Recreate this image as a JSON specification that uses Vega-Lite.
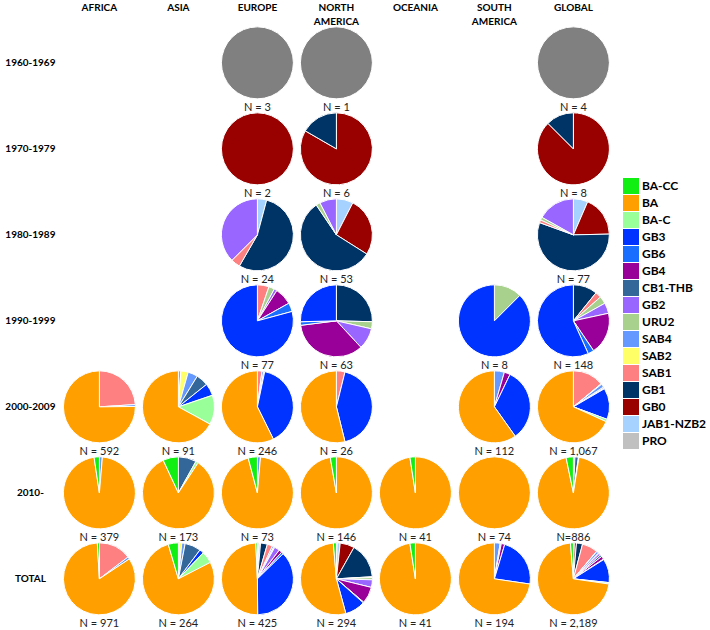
{
  "$schema": "https://vega.github.io/schema/vega-lite/v6.json",
  "padding": {"left": 5, "top": 2, "right": 5, "bottom": 5},
  "bounds": "flush",
  "datasets": {
    "ranks": [
      {"g": "NA", "k": 0}, {"g": "PRO", "k": 1}, {"g": "JAB1-NZB2", "k": 2}, {"g": "GB0", "k": 3},
      {"g": "GB1", "k": 4}, {"g": "SAB1", "k": 5}, {"g": "SAB2", "k": 6}, {"g": "SAB4", "k": 7},
      {"g": "URU2", "k": 8}, {"g": "GB2", "k": 9}, {"g": "CB1-THB", "k": 10}, {"g": "GB4", "k": 11},
      {"g": "GB6", "k": 12}, {"g": "GB3", "k": 13}, {"g": "BA-C", "k": 14}, {"g": "BA", "k": 15}, {"g": "BA-CC", "k": 16}
    ],
    "pies": [
      {"r": "AFRICA", "d": "1960-1969", "g": "NA", "v": null, "n": null},
      {"r": "ASIA", "d": "1960-1969", "g": "NA", "v": null, "n": null},
      {"r": "OCEANIA", "d": "1960-1969", "g": "NA", "v": null, "n": null},
      {"r": "SOUTH AMERICA", "d": "1960-1969", "g": "NA", "v": null, "n": null},
      {"r": "AFRICA", "d": "1970-1979", "g": "NA", "v": null, "n": null},
      {"r": "ASIA", "d": "1970-1979", "g": "NA", "v": null, "n": null},
      {"r": "OCEANIA", "d": "1970-1979", "g": "NA", "v": null, "n": null},
      {"r": "SOUTH AMERICA", "d": "1970-1979", "g": "NA", "v": null, "n": null},
      {"r": "AFRICA", "d": "1980-1989", "g": "NA", "v": null, "n": null},
      {"r": "ASIA", "d": "1980-1989", "g": "NA", "v": null, "n": null},
      {"r": "OCEANIA", "d": "1980-1989", "g": "NA", "v": null, "n": null},
      {"r": "SOUTH AMERICA", "d": "1980-1989", "g": "NA", "v": null, "n": null},
      {"r": "AFRICA", "d": "1990-1999", "g": "NA", "v": null, "n": null},
      {"r": "ASIA", "d": "1990-1999", "g": "NA", "v": null, "n": null},
      {"r": "OCEANIA", "d": "1990-1999", "g": "NA", "v": null, "n": null},
      {"r": "OCEANIA", "d": "2000-2009", "g": "NA", "v": null, "n": null},

      {"r": "EUROPE", "d": "1960-1969", "g": "NA", "v": 3, "n": "N = 3"},
      {"r": "NORTH AMERICA", "d": "1960-1969", "g": "NA", "v": 1, "n": "N = 1"},
      {"r": "GLOBAL", "d": "1960-1969", "g": "NA", "v": 4, "n": "N = 4"},

      {"r": "EUROPE", "d": "1970-1979", "g": "GB0", "v": 2, "n": "N = 2"},
      {"r": "NORTH AMERICA", "d": "1970-1979", "g": "GB0", "v": 5, "n": "N = 6"},
      {"r": "NORTH AMERICA", "d": "1970-1979", "g": "GB1", "v": 1, "n": "N = 6"},
      {"r": "GLOBAL", "d": "1970-1979", "g": "GB0", "v": 7, "n": "N = 8"},
      {"r": "GLOBAL", "d": "1970-1979", "g": "GB1", "v": 1, "n": "N = 8"},

      {"r": "EUROPE", "d": "1980-1989", "g": "JAB1-NZB2", "v": 1, "n": "N = 24"},
      {"r": "EUROPE", "d": "1980-1989", "g": "GB1", "v": 13, "n": "N = 24"},
      {"r": "EUROPE", "d": "1980-1989", "g": "SAB1", "v": 1, "n": "N = 24"},
      {"r": "EUROPE", "d": "1980-1989", "g": "GB2", "v": 9, "n": "N = 24"},
      {"r": "NORTH AMERICA", "d": "1980-1989", "g": "JAB1-NZB2", "v": 4, "n": "N = 53"},
      {"r": "NORTH AMERICA", "d": "1980-1989", "g": "GB0", "v": 14, "n": "N = 53"},
      {"r": "NORTH AMERICA", "d": "1980-1989", "g": "GB1", "v": 30, "n": "N = 53"},
      {"r": "NORTH AMERICA", "d": "1980-1989", "g": "URU2", "v": 1, "n": "N = 53"},
      {"r": "NORTH AMERICA", "d": "1980-1989", "g": "GB2", "v": 4, "n": "N = 53"},
      {"r": "GLOBAL", "d": "1980-1989", "g": "JAB1-NZB2", "v": 5, "n": "N = 77"},
      {"r": "GLOBAL", "d": "1980-1989", "g": "GB0", "v": 14, "n": "N = 77"},
      {"r": "GLOBAL", "d": "1980-1989", "g": "GB1", "v": 43, "n": "N = 77"},
      {"r": "GLOBAL", "d": "1980-1989", "g": "SAB1", "v": 1, "n": "N = 77"},
      {"r": "GLOBAL", "d": "1980-1989", "g": "URU2", "v": 1, "n": "N = 77"},
      {"r": "GLOBAL", "d": "1980-1989", "g": "GB2", "v": 13, "n": "N = 77"},

      {"r": "EUROPE", "d": "1990-1999", "g": "SAB1", "v": 4, "n": "N = 77"},
      {"r": "EUROPE", "d": "1990-1999", "g": "URU2", "v": 2, "n": "N = 77"},
      {"r": "EUROPE", "d": "1990-1999", "g": "GB2", "v": 1, "n": "N = 77"},
      {"r": "EUROPE", "d": "1990-1999", "g": "GB4", "v": 6, "n": "N = 77"},
      {"r": "EUROPE", "d": "1990-1999", "g": "GB6", "v": 3, "n": "N = 77"},
      {"r": "EUROPE", "d": "1990-1999", "g": "GB3", "v": 61, "n": "N = 77"},
      {"r": "NORTH AMERICA", "d": "1990-1999", "g": "GB1", "v": 16, "n": "N = 63"},
      {"r": "NORTH AMERICA", "d": "1990-1999", "g": "URU2", "v": 2, "n": "N = 63"},
      {"r": "NORTH AMERICA", "d": "1990-1999", "g": "GB2", "v": 6, "n": "N = 63"},
      {"r": "NORTH AMERICA", "d": "1990-1999", "g": "GB4", "v": 22, "n": "N = 63"},
      {"r": "NORTH AMERICA", "d": "1990-1999", "g": "GB6", "v": 1, "n": "N = 63"},
      {"r": "NORTH AMERICA", "d": "1990-1999", "g": "GB3", "v": 16, "n": "N = 63"},
      {"r": "SOUTH AMERICA", "d": "1990-1999", "g": "URU2", "v": 1, "n": "N = 8"},
      {"r": "SOUTH AMERICA", "d": "1990-1999", "g": "GB3", "v": 7, "n": "N = 8"},
      {"r": "GLOBAL", "d": "1990-1999", "g": "GB1", "v": 16, "n": "N = 148"},
      {"r": "GLOBAL", "d": "1990-1999", "g": "SAB1", "v": 4, "n": "N = 148"},
      {"r": "GLOBAL", "d": "1990-1999", "g": "URU2", "v": 5, "n": "N = 148"},
      {"r": "GLOBAL", "d": "1990-1999", "g": "GB2", "v": 7, "n": "N = 148"},
      {"r": "GLOBAL", "d": "1990-1999", "g": "GB4", "v": 28, "n": "N = 148"},
      {"r": "GLOBAL", "d": "1990-1999", "g": "GB6", "v": 4, "n": "N = 148"},
      {"r": "GLOBAL", "d": "1990-1999", "g": "GB3", "v": 84, "n": "N = 148"},

      {"r": "AFRICA", "d": "2000-2009", "g": "SAB1", "v": 142, "n": "N = 592"},
      {"r": "AFRICA", "d": "2000-2009", "g": "SAB4", "v": 5, "n": "N = 592"},
      {"r": "AFRICA", "d": "2000-2009", "g": "BA", "v": 445, "n": "N = 592"},
      {"r": "ASIA", "d": "2000-2009", "g": "SAB1", "v": 1, "n": "N = 91"},
      {"r": "ASIA", "d": "2000-2009", "g": "SAB2", "v": 3, "n": "N = 91"},
      {"r": "ASIA", "d": "2000-2009", "g": "SAB4", "v": 4, "n": "N = 91"},
      {"r": "ASIA", "d": "2000-2009", "g": "CB1-THB", "v": 5, "n": "N = 91"},
      {"r": "ASIA", "d": "2000-2009", "g": "GB3", "v": 5, "n": "N = 91"},
      {"r": "ASIA", "d": "2000-2009", "g": "BA-C", "v": 12, "n": "N = 91"},
      {"r": "ASIA", "d": "2000-2009", "g": "BA", "v": 61, "n": "N = 91"},
      {"r": "EUROPE", "d": "2000-2009", "g": "SAB1", "v": 5, "n": "N = 246"},
      {"r": "EUROPE", "d": "2000-2009", "g": "SAB4", "v": 2, "n": "N = 246"},
      {"r": "EUROPE", "d": "2000-2009", "g": "GB6", "v": 1, "n": "N = 246"},
      {"r": "EUROPE", "d": "2000-2009", "g": "GB3", "v": 97, "n": "N = 246"},
      {"r": "EUROPE", "d": "2000-2009", "g": "BA", "v": 141, "n": "N = 246"},
      {"r": "NORTH AMERICA", "d": "2000-2009", "g": "SAB1", "v": 1, "n": "N = 26"},
      {"r": "NORTH AMERICA", "d": "2000-2009", "g": "GB3", "v": 11, "n": "N = 26"},
      {"r": "NORTH AMERICA", "d": "2000-2009", "g": "BA", "v": 14, "n": "N = 26"},
      {"r": "SOUTH AMERICA", "d": "2000-2009", "g": "SAB4", "v": 5, "n": "N = 112"},
      {"r": "SOUTH AMERICA", "d": "2000-2009", "g": "GB4", "v": 3, "n": "N = 112"},
      {"r": "SOUTH AMERICA", "d": "2000-2009", "g": "GB3", "v": 37, "n": "N = 112"},
      {"r": "SOUTH AMERICA", "d": "2000-2009", "g": "BA", "v": 67, "n": "N = 112"},
      {"r": "GLOBAL", "d": "2000-2009", "g": "SAB1", "v": 149, "n": "N = 1,067"},
      {"r": "GLOBAL", "d": "2000-2009", "g": "SAB2", "v": 3, "n": "N = 1,067"},
      {"r": "GLOBAL", "d": "2000-2009", "g": "SAB4", "v": 16, "n": "N = 1,067"},
      {"r": "GLOBAL", "d": "2000-2009", "g": "CB1-THB", "v": 5, "n": "N = 1,067"},
      {"r": "GLOBAL", "d": "2000-2009", "g": "GB4", "v": 3, "n": "N = 1,067"},
      {"r": "GLOBAL", "d": "2000-2009", "g": "GB6", "v": 1, "n": "N = 1,067"},
      {"r": "GLOBAL", "d": "2000-2009", "g": "GB3", "v": 150, "n": "N = 1,067"},
      {"r": "GLOBAL", "d": "2000-2009", "g": "BA-C", "v": 12, "n": "N = 1,067"},
      {"r": "GLOBAL", "d": "2000-2009", "g": "BA", "v": 728, "n": "N = 1,067"},

      {"r": "AFRICA", "d": "2010-", "g": "SAB4", "v": 5, "n": "N = 379"},
      {"r": "AFRICA", "d": "2010-", "g": "BA", "v": 365, "n": "N = 379"},
      {"r": "AFRICA", "d": "2010-", "g": "BA-CC", "v": 9, "n": "N = 379"},
      {"r": "ASIA", "d": "2010-", "g": "CB1-THB", "v": 14, "n": "N = 173"},
      {"r": "ASIA", "d": "2010-", "g": "BA-C", "v": 2, "n": "N = 173"},
      {"r": "ASIA", "d": "2010-", "g": "BA", "v": 145, "n": "N = 173"},
      {"r": "ASIA", "d": "2010-", "g": "BA-CC", "v": 12, "n": "N = 173"},
      {"r": "EUROPE", "d": "2010-", "g": "SAB4", "v": 1, "n": "N = 73"},
      {"r": "EUROPE", "d": "2010-", "g": "BA", "v": 69, "n": "N = 73"},
      {"r": "EUROPE", "d": "2010-", "g": "BA-CC", "v": 3, "n": "N = 73"},
      {"r": "NORTH AMERICA", "d": "2010-", "g": "BA", "v": 142, "n": "N = 146"},
      {"r": "NORTH AMERICA", "d": "2010-", "g": "BA-CC", "v": 4, "n": "N = 146"},
      {"r": "OCEANIA", "d": "2010-", "g": "BA", "v": 40, "n": "N = 41"},
      {"r": "OCEANIA", "d": "2010-", "g": "BA-CC", "v": 1, "n": "N = 41"},
      {"r": "SOUTH AMERICA", "d": "2010-", "g": "BA", "v": 74, "n": "N = 74"},
      {"r": "GLOBAL", "d": "2010-", "g": "SAB4", "v": 6, "n": "N=886"},
      {"r": "GLOBAL", "d": "2010-", "g": "CB1-THB", "v": 14, "n": "N=886"},
      {"r": "GLOBAL", "d": "2010-", "g": "BA-C", "v": 2, "n": "N=886"},
      {"r": "GLOBAL", "d": "2010-", "g": "BA", "v": 835, "n": "N=886"},
      {"r": "GLOBAL", "d": "2010-", "g": "BA-CC", "v": 29, "n": "N=886"},

      {"r": "AFRICA", "d": "TOTAL", "g": "SAB1", "v": 142, "n": "N = 971"},
      {"r": "AFRICA", "d": "TOTAL", "g": "SAB4", "v": 10, "n": "N = 971"},
      {"r": "AFRICA", "d": "TOTAL", "g": "BA", "v": 810, "n": "N = 971"},
      {"r": "AFRICA", "d": "TOTAL", "g": "BA-CC", "v": 9, "n": "N = 971"},
      {"r": "ASIA", "d": "TOTAL", "g": "SAB1", "v": 1, "n": "N = 264"},
      {"r": "ASIA", "d": "TOTAL", "g": "SAB2", "v": 3, "n": "N = 264"},
      {"r": "ASIA", "d": "TOTAL", "g": "SAB4", "v": 4, "n": "N = 264"},
      {"r": "ASIA", "d": "TOTAL", "g": "CB1-THB", "v": 19, "n": "N = 264"},
      {"r": "ASIA", "d": "TOTAL", "g": "GB3", "v": 5, "n": "N = 264"},
      {"r": "ASIA", "d": "TOTAL", "g": "BA-C", "v": 14, "n": "N = 264"},
      {"r": "ASIA", "d": "TOTAL", "g": "BA", "v": 206, "n": "N = 264"},
      {"r": "ASIA", "d": "TOTAL", "g": "BA-CC", "v": 12, "n": "N = 264"},
      {"r": "EUROPE", "d": "TOTAL", "g": "NA", "v": 3, "n": "N = 425"},
      {"r": "EUROPE", "d": "TOTAL", "g": "JAB1-NZB2", "v": 1, "n": "N = 425"},
      {"r": "EUROPE", "d": "TOTAL", "g": "GB0", "v": 2, "n": "N = 425"},
      {"r": "EUROPE", "d": "TOTAL", "g": "GB1", "v": 13, "n": "N = 425"},
      {"r": "EUROPE", "d": "TOTAL", "g": "SAB1", "v": 10, "n": "N = 425"},
      {"r": "EUROPE", "d": "TOTAL", "g": "SAB4", "v": 3, "n": "N = 425"},
      {"r": "EUROPE", "d": "TOTAL", "g": "URU2", "v": 2, "n": "N = 425"},
      {"r": "EUROPE", "d": "TOTAL", "g": "GB2", "v": 10, "n": "N = 425"},
      {"r": "EUROPE", "d": "TOTAL", "g": "GB4", "v": 6, "n": "N = 425"},
      {"r": "EUROPE", "d": "TOTAL", "g": "GB6", "v": 4, "n": "N = 425"},
      {"r": "EUROPE", "d": "TOTAL", "g": "GB3", "v": 158, "n": "N = 425"},
      {"r": "EUROPE", "d": "TOTAL", "g": "BA", "v": 210, "n": "N = 425"},
      {"r": "EUROPE", "d": "TOTAL", "g": "BA-CC", "v": 3, "n": "N = 425"},
      {"r": "NORTH AMERICA", "d": "TOTAL", "g": "NA", "v": 1, "n": "N = 294"},
      {"r": "NORTH AMERICA", "d": "TOTAL", "g": "JAB1-NZB2", "v": 4, "n": "N = 294"},
      {"r": "NORTH AMERICA", "d": "TOTAL", "g": "GB0", "v": 19, "n": "N = 294"},
      {"r": "NORTH AMERICA", "d": "TOTAL", "g": "GB1", "v": 47, "n": "N = 294"},
      {"r": "NORTH AMERICA", "d": "TOTAL", "g": "SAB1", "v": 1, "n": "N = 294"},
      {"r": "NORTH AMERICA", "d": "TOTAL", "g": "URU2", "v": 3, "n": "N = 294"},
      {"r": "NORTH AMERICA", "d": "TOTAL", "g": "GB2", "v": 10, "n": "N = 294"},
      {"r": "NORTH AMERICA", "d": "TOTAL", "g": "GB4", "v": 22, "n": "N = 294"},
      {"r": "NORTH AMERICA", "d": "TOTAL", "g": "GB6", "v": 1, "n": "N = 294"},
      {"r": "NORTH AMERICA", "d": "TOTAL", "g": "GB3", "v": 27, "n": "N = 294"},
      {"r": "NORTH AMERICA", "d": "TOTAL", "g": "BA", "v": 156, "n": "N = 294"},
      {"r": "NORTH AMERICA", "d": "TOTAL", "g": "BA-CC", "v": 4, "n": "N = 294"},
      {"r": "OCEANIA", "d": "TOTAL", "g": "BA", "v": 40, "n": "N = 41"},
      {"r": "OCEANIA", "d": "TOTAL", "g": "BA-CC", "v": 1, "n": "N = 41"},
      {"r": "SOUTH AMERICA", "d": "TOTAL", "g": "SAB4", "v": 5, "n": "N = 194"},
      {"r": "SOUTH AMERICA", "d": "TOTAL", "g": "URU2", "v": 1, "n": "N = 194"},
      {"r": "SOUTH AMERICA", "d": "TOTAL", "g": "GB4", "v": 3, "n": "N = 194"},
      {"r": "SOUTH AMERICA", "d": "TOTAL", "g": "GB3", "v": 44, "n": "N = 194"},
      {"r": "SOUTH AMERICA", "d": "TOTAL", "g": "BA", "v": 141, "n": "N = 194"},
      {"r": "GLOBAL", "d": "TOTAL", "g": "NA", "v": 4, "n": "N = 2,189"},
      {"r": "GLOBAL", "d": "TOTAL", "g": "JAB1-NZB2", "v": 5, "n": "N = 2,189"},
      {"r": "GLOBAL", "d": "TOTAL", "g": "GB0", "v": 21, "n": "N = 2,189"},
      {"r": "GLOBAL", "d": "TOTAL", "g": "GB1", "v": 60, "n": "N = 2,189"},
      {"r": "GLOBAL", "d": "TOTAL", "g": "SAB1", "v": 154, "n": "N = 2,189"},
      {"r": "GLOBAL", "d": "TOTAL", "g": "SAB2", "v": 3, "n": "N = 2,189"},
      {"r": "GLOBAL", "d": "TOTAL", "g": "SAB4", "v": 22, "n": "N = 2,189"},
      {"r": "GLOBAL", "d": "TOTAL", "g": "URU2", "v": 6, "n": "N = 2,189"},
      {"r": "GLOBAL", "d": "TOTAL", "g": "GB2", "v": 20, "n": "N = 2,189"},
      {"r": "GLOBAL", "d": "TOTAL", "g": "CB1-THB", "v": 19, "n": "N = 2,189"},
      {"r": "GLOBAL", "d": "TOTAL", "g": "GB4", "v": 31, "n": "N = 2,189"},
      {"r": "GLOBAL", "d": "TOTAL", "g": "GB6", "v": 5, "n": "N = 2,189"},
      {"r": "GLOBAL", "d": "TOTAL", "g": "GB3", "v": 234, "n": "N = 2,189"},
      {"r": "GLOBAL", "d": "TOTAL", "g": "BA-C", "v": 14, "n": "N = 2,189"},
      {"r": "GLOBAL", "d": "TOTAL", "g": "BA", "v": 1563, "n": "N = 2,189"},
      {"r": "GLOBAL", "d": "TOTAL", "g": "BA-CC", "v": 29, "n": "N = 2,189"}
    ]
  },
  "data": {"name": "pies"},
  "transform": [
    {"lookup": "g", "from": {"data": {"name": "ranks"}, "key": "g", "fields": ["k"]}}
  ],
  "facet": {
    "row": {
      "field": "d", "type": "nominal", "title": null,
      "sort": ["1960-1969", "1970-1979", "1980-1989", "1990-1999", "2000-2009", "2010-", "TOTAL"],
      "header": {"labels": false}
    },
    "column": {
      "field": "r", "type": "nominal", "title": null,
      "sort": ["AFRICA", "ASIA", "EUROPE", "NORTH AMERICA", "OCEANIA", "SOUTH AMERICA", "GLOBAL"],
      "header": {"labelExpr": "indexof(datum.value, ' ') > 0 ? split(datum.value, ' ') : [datum.value, ' ']",
                 "labelBaseline": "top", "labelPadding": -6.5, "labelLineHeight": 14,
                 "labelFont": "Lato", "labelFontWeight": "bold", "labelFontSize": 10, "labelColor": "#000000"}
    }
  },
  "spacing": 0,
  "resolve": {"scale": {"theta": "independent"}},
  "spec": {
    "width": 78.8,
    "height": 85.7,
    "layer": [
      {
        "transform": [{"filter": "isValid(datum.v)"}],
        "mark": {"type": "arc", "outerRadius": 36, "stroke": "#ffffff", "strokeWidth": 1},
        "encoding": {
          "theta": {"field": "v", "type": "quantitative", "stack": "normalize"},
          "order": {"field": "k", "type": "quantitative", "sort": "ascending"},
          "color": {
            "field": "g", "type": "nominal",
            "scale": {
              "domain": ["BA-CC", "BA", "BA-C", "GB3", "GB6", "GB4", "CB1-THB", "GB2", "URU2", "SAB4", "SAB2", "SAB1", "GB1", "GB0", "JAB1-NZB2", "PRO", "NA"],
              "range": ["#11EE11", "#FFA000", "#99FF99", "#0033FF", "#1A6EFF", "#990099", "#336699", "#9966FF", "#A9D18E", "#6699FF", "#FFFF66", "#FF8080", "#003366", "#990000", "#A6D2FF", "#C0C0C0", "#808080"]
            },
            "legend": {
              "values": ["BA-CC", "BA", "BA-C", "GB3", "GB6", "GB4", "CB1-THB", "GB2", "URU2", "SAB4", "SAB2", "SAB1", "GB1", "GB0", "JAB1-NZB2", "PRO"],
              "title": null, "orient": "none", "legendX": 563, "legendY": 158,
              "symbolType": "square", "symbolSize": 256, "symbolStrokeWidth": 0, "rowPadding": 1,
              "labelFont": "Lato", "labelFontWeight": "bold", "labelFontSize": 12, "labelColor": "#000000", "labelOffset": 3
            }
          }
        }
      },
      {
        "transform": [{"filter": "isValid(datum.n)"}, {"aggregate": [{"op": "count", "as": "c"}], "groupby": ["r", "d", "n"]}],
        "mark": {"type": "text", "dy": 45, "font": "Lato", "fontSize": 11, "color": "#222222"},
        "encoding": {"text": {"field": "n", "type": "nominal"}}
      },
      {
        "transform": [{"filter": "datum.r == 'AFRICA'"}, {"aggregate": [{"op": "count", "as": "c"}], "groupby": ["r", "d"]}],
        "mark": {"type": "text", "dx": -69, "align": "center", "baseline": "middle", "font": "Lato", "fontWeight": "bold", "fontSize": 10, "color": "#000000"},
        "encoding": {"text": {"field": "d", "type": "nominal"}}
      }
    ]
  },
  "config": {"view": {"stroke": null}}
}
